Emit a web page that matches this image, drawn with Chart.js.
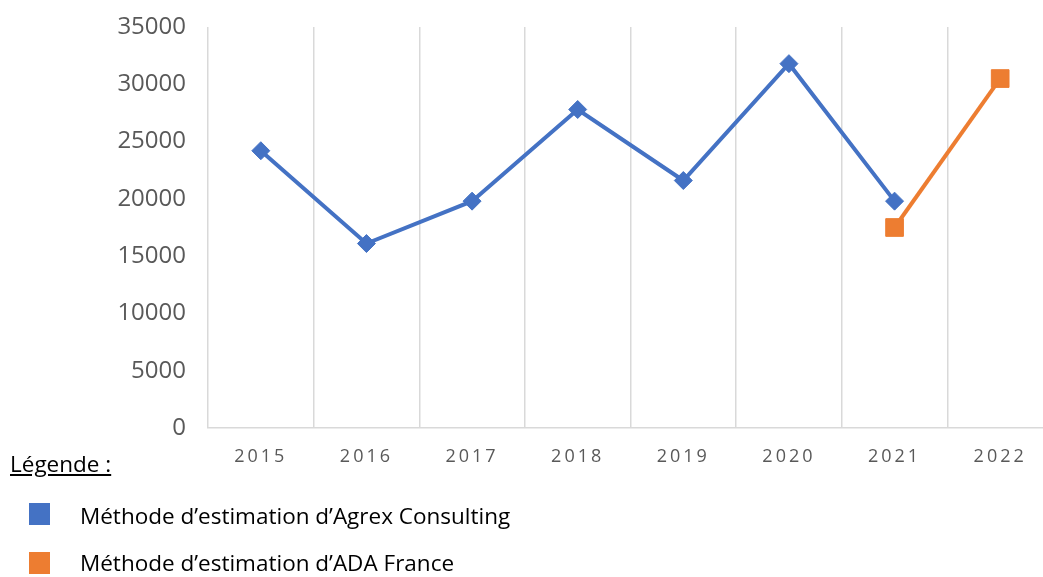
<!DOCTYPE html>
<html>
<head>
<meta charset="utf-8">
<script src="https://cdn.jsdelivr.net/npm/chart.js@4.4.1/dist/chart.umd.min.js"></script>
<style>
  html, body { margin: 0; padding: 0; background: #fff; overflow: hidden; }
  #wrap { position: absolute; left: 0; top: 0; width: 1043px; height: 577px; overflow: hidden; }
  #inner { position: absolute; left: 0; top: 0; width: 1053px; height: 577px; }
  .lg { position: absolute; font-family: "Open Sans", sans-serif; color: #000; white-space: nowrap; line-height: 1; }
  .sw { position: absolute; width: 21px; height: 22px; }
</style>
</head>
<body>
<div id="wrap">
  <div id="inner"><canvas id="c"></canvas></div>
  <div class="lg" id="title" style="left:10px; top:453px; font-size:22.5px; text-decoration:underline;">Légende :</div>
  <div class="sw" style="left:29px; top:503px; background:#4472C4;"></div>
  <div class="lg" id="l1" style="left:80px; top:505px; font-size:22.5px;">Méthode d’estimation d’Agrex Consulting</div>
  <div class="sw" style="left:29px; top:552px; background:#ED7D31;"></div>
  <div class="lg" id="l2" style="left:80px; top:552px; font-size:22.5px;">Méthode d’estimation d’ADA France</div>
</div>
<script>
const categories = ['2015', '2016', '2017', '2018', '2019', '2020', '2021', '2022'];
const agrexValues = [24200, 16100, 19800, 27800, 21600, 31800, 19800, null];
const adaValues = [null, null, null, null, null, null, 17500, 30500];
const seriesNames = ["Méthode d’estimation d’Agrex Consulting", "Méthode d’estimation d’ADA France"];
const yMin = 0, yMax = 35000, yStep = 5000;

class SpacedCategory extends Chart.CategoryScale {
  drawLabels(area) {
    const ctx = this.ctx;
    ctx.save();
    try { ctx.letterSpacing = '3px'; } catch (e) {}
    super.drawLabels(area);
    ctx.restore();
  }
}
SpacedCategory.id = 'spacedCategory';
SpacedCategory.defaults = Chart.CategoryScale.defaults;
Chart.register(SpacedCategory);

function zeroPad(s) { s.paddingLeft = 0; s.paddingRight = 0; s.paddingTop = 0; s.paddingBottom = 0; }

new Chart(document.getElementById('c'), {
  type: 'line',
  data: {
    labels: categories,
    datasets: [
      {
        label: seriesNames[0],
        data: agrexValues,
        borderColor: '#4472C4',
        backgroundColor: '#4472C4',
        borderWidth: 4,
        pointStyle: 'rectRot',
        pointRadius: 9,
        pointBorderWidth: 1,
        pointBackgroundColor: '#4472C4',
        pointBorderColor: '#4472C4',
        spanGaps: false,
        tension: 0,
        clip: false
      },
      {
        label: seriesNames[1],
        data: adaValues,
        borderColor: '#ED7D31',
        backgroundColor: '#ED7D31',
        borderWidth: 4,
        pointStyle: 'rect',
        pointRadius: 12.5,
        pointBorderWidth: 1,
        pointBackgroundColor: '#ED7D31',
        pointBorderColor: '#ED7D31',
        spanGaps: false,
        tension: 0,
        clip: false
      }
    ]
  },
  options: {
    responsive: true,
    maintainAspectRatio: false,
    animation: false,
    devicePixelRatio: 1,
    layout: { autoPadding: false, padding: { top: 27, left: 0, right: 0, bottom: 0 } },
    plugins: { legend: { display: false }, tooltip: { enabled: false } },
    scales: {
      x: {
        type: 'spacedCategory',
        offset: true,
        grid: { display: true, offset: true, color: '#d9d9d9', lineWidth: 1.5, drawTicks: false },
        border: { display: true, color: '#d9d9d9', width: 1.5 },
        ticks: { color: '#595959', font: { family: 'Open Sans', size: 18 }, padding: 18, maxRotation: 0 },
        afterFit: (s) => { s.height = 149; zeroPad(s); }
      },
      y: {
        min: yMin, max: yMax,
        grid: { display: false, drawTicks: false },
        border: { display: false },
        ticks: {
          stepSize: yStep, color: '#595959', font: { family: 'Open Sans', size: 24 }, padding: 22,
          callback: (v) => String(v)
        },
        afterFit: (s) => { s.width = 208; zeroPad(s); }
      }
    }
  }
});
</script>
</body>
</html>
